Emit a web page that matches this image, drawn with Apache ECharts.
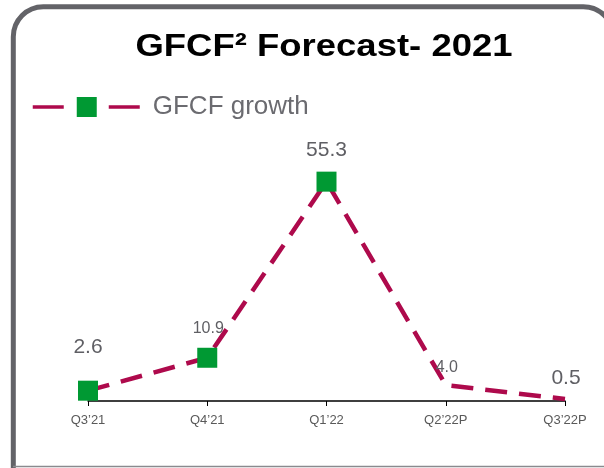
<!DOCTYPE html>
<html><head><meta charset="utf-8">
<script src="https://cdn.jsdelivr.net/npm/echarts@6/dist/echarts.min.js"></script>
<style>html,body{margin:0;padding:0;background:#fff}#c{width:604px;height:468px}</style>
</head><body><div id="c"></div>
<script>
const categories = ["Q3\u201921", "Q4\u201921", "Q1\u201922", "Q2\u201922P", "Q3\u201922P"];
const growth = [2.6, 10.9, 55.3, 4.0, 0.5];
const showMarker = [true, true, true, false, false];
const labelSize = [21, 16, 21, 16, 21];
const labelOffset = [[0, -43], [1, -29], [0, -31], [1, -18], [1, -21]];
const titleText = 'GFCF\u00b2 Forecast- 2021';
const seriesName = 'GFCF growth';

const chart = echarts.init(document.getElementById('c'), null, {renderer: 'canvas'});
const lineColor = '#AE0A4C';
const green = '#009933';
chart.setOption({
  animation: false,
  graphic: [{
    type: 'rect', z: 100, silent: true,
    shape: {x: 13.3, y: 6.7, width: 600, height: 520, r: 30},
    style: {fill: 'none', stroke: '#636368', lineWidth: 5}
  }, {
    type: 'line', z: 100, silent: true,
    shape: {x1: 13, y1: 466.5, x2: 604, y2: 466.5},
    style: {stroke: '#8a8a8e', lineWidth: 1.5}
  }, {
    type: 'text', x: 324, y: 47, scaleX: 1.14, z: 100,
    style: {text: titleText, x: 0, y: 0, align: 'center', verticalAlign: 'middle',
      font: 'bold 32px "Liberation Sans"', fill: '#000'}
  }],
  legend: {
    left: 31, top: 94, padding: 0, itemWidth: 108, itemHeight: 25, itemGap: 10,
    textStyle: {fontFamily: 'Liberation Sans', fontSize: 26, color: '#6b6b70', padding: [0,0,0,7]},
    data: [{name: seriesName, itemStyle: {color: green},
      lineStyle: {color: lineColor, width: 3.5, type: [31, 45]}}]
  },
  grid: {left: 88, right: 39, top: 163, bottom: 67},
  xAxis: {
    type: 'category', data: categories, boundaryGap: false,
    axisLine: {lineStyle: {color: '#000', width: 1.5}},
    axisTick: {lineStyle: {color: '#000'}, length: 5},
    axisLabel: {fontFamily: 'Liberation Sans', fontSize: 13, color: '#595959', margin: 13}
  },
  yAxis: {type: 'value', min: 0, max: 60, show: false, splitLine: {show: false}},
  series: [{
    name: seriesName, type: 'line',
    lineStyle: {color: lineColor, width: 4.5, type: [22, 12]},
    itemStyle: {color: green},
    symbol: 'rect', symbolSize: 20,
    data: growth.map((v, i) => ({
      value: v,
      symbolSize: showMarker[i] ? 20 : 0,
      label: {show: true, position: 'inside', offset: labelOffset[i],
        fontFamily: 'Liberation Sans', fontSize: labelSize[i], color: '#5f5f64',
        formatter: v.toFixed(1)}
    })),
    z: 3
  }]
});
</script></body></html>
